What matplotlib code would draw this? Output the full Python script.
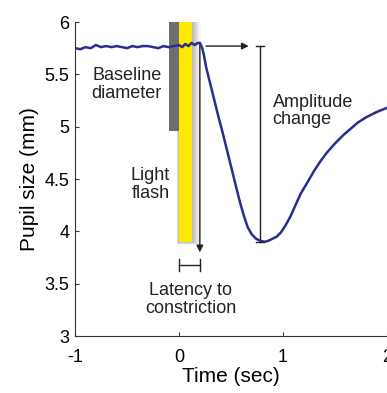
import matplotlib.pyplot as plt
from matplotlib.patches import Rectangle

plt.rcParams['font.family'] = ['Liberation Sans', 'DejaVu Sans']

# pupil trace (time in sec, size in mm)
time_s = [-1.0, -0.95, -0.9, -0.85, -0.8, -0.75, -0.7, -0.65, -0.6, -0.55,
          -0.5, -0.45, -0.4, -0.35, -0.3, -0.25, -0.2, -0.15, -0.1, -0.05,
          0.0, 0.03, 0.06, 0.09, 0.12, 0.15, 0.18, 0.2, 0.22, 0.24,
          0.26, 0.3, 0.34, 0.38, 0.42, 0.46, 0.5, 0.54, 0.58, 0.62,
          0.66, 0.7, 0.74, 0.78, 0.82, 0.86, 0.9, 0.94, 0.98, 1.02,
          1.07, 1.12, 1.17, 1.23, 1.3, 1.36, 1.42, 1.5, 1.58, 1.65,
          1.72, 1.8, 1.9, 2.0]
pupil_mm = [5.75, 5.74, 5.76, 5.75, 5.78, 5.76, 5.77, 5.76, 5.77, 5.76,
            5.75, 5.77, 5.76, 5.77, 5.77, 5.76, 5.75, 5.77, 5.76, 5.77,
            5.78, 5.76, 5.79, 5.77, 5.8, 5.78, 5.8, 5.8, 5.76, 5.68,
            5.57, 5.41, 5.25, 5.09, 4.94, 4.78, 4.62, 4.46, 4.3, 4.16,
            4.04, 3.97, 3.93, 3.91, 3.9, 3.91, 3.93, 3.95, 3.99, 4.05,
            4.14, 4.25, 4.36, 4.46, 4.58, 4.67, 4.75, 4.84, 4.92, 4.98,
            5.04, 5.09, 5.14, 5.18]

baseline_win = (-0.1, 0.0, 4.96)    # grey bar: start, end, bottom
flash_win = (0.0, 0.125, 3.9)       # yellow bar: start, end, bottom
baseline_mm = 5.77
min_mm = 3.9
min_t = 0.78
latency = (0.0, 0.2)

fig = plt.figure(figsize=(3.87, 3.93), dpi=100)
ax = fig.add_axes([0.194, 0.145, 0.806, 0.799])

# soft shadow round the flash bar
for k in range(8):
    pad = 0.006 * (8 - k)
    ax.add_patch(Rectangle((flash_win[0] - pad * 0.5, flash_win[2] - pad * 0.6),
                           flash_win[1] - flash_win[0] + pad * 2.2,
                           6.0 - flash_win[2] + pad * 3,
                           color='black', alpha=0.035, lw=0, zorder=1))
ax.add_patch(Rectangle((baseline_win[0], baseline_win[2]),
                       baseline_win[1] - baseline_win[0], 6.0 - baseline_win[2],
                       color='#6e6e6e', lw=0, zorder=2))
ax.add_patch(Rectangle((flash_win[0], flash_win[2]),
                       flash_win[1] - flash_win[0], 6.0 - flash_win[2],
                       color='#ffe800', lw=0, zorder=2))

ax.plot(time_s, pupil_mm, color='#2a2d8c', lw=1.8, zorder=4)

# latency arrow going down
ax.annotate('', xy=(0.2, 3.8), xytext=(0.2, 5.8),
            arrowprops=dict(arrowstyle='-|>', color='#222222', lw=1,
                            mutation_scale=10, shrinkA=0, shrinkB=0), zorder=3)
# horizontal arrow to amplitude bar
ax.annotate('', xy=(0.67, baseline_mm), xytext=(0.26, baseline_mm),
            arrowprops=dict(arrowstyle='-|>', color='#222222', lw=1,
                            mutation_scale=10, shrinkA=0, shrinkB=0), zorder=3)
# amplitude bar with caps
ax.plot([min_t, min_t], [min_mm, baseline_mm], color='#222222', lw=1, zorder=3)
ax.plot([min_t - 0.04, min_t + 0.04], [baseline_mm] * 2, color='#222222', lw=1)
ax.plot([min_t - 0.04, min_t + 0.04], [min_mm] * 2, color='#222222', lw=1, zorder=5)
# latency bracket
ax.plot(latency, [3.68, 3.68], color='#222222', lw=1)
for t in latency:
    ax.plot([t, t], [3.62, 3.74], color='#222222', lw=1)

tkw = dict(fontsize=13, color='#222222', linespacing=1.05)
ax.text(-0.17, 5.4, 'Baseline\ndiameter', ha='right', va='center', **tkw)
ax.text(-0.09, 4.45, 'Light\nflash', ha='right', va='center', **tkw)
ax.text(0.9, 5.15, 'Amplitude\nchange', ha='left', va='center', **tkw)
ax.text(0.11, 3.35, 'Latency to\nconstriction', ha='center', va='center', **tkw)

ax.set_xlim(-1, 2)
ax.set_ylim(3, 6)
ax.set_xticks([-1, 0, 1, 2])
ax.set_xticklabels(['-1', '0', '1', '2'])
ax.set_yticks([3, 3.5, 4, 4.5, 5, 5.5, 6])
ax.set_yticklabels(['3', '3.5', '4', '4.5', '5', '5.5', '6'])
ax.tick_params(direction='in', length=3, labelsize=13, color='#333333')
ax.tick_params(axis='x', pad=9)
ax.tick_params(axis='y', pad=4)
ax.spines['top'].set_visible(False)
ax.spines['right'].set_visible(False)
for s in ['left', 'bottom']:
    ax.spines[s].set_color('#333333')
    ax.spines[s].set_linewidth(0.8)
ax.set_xlabel('Time (sec)', fontsize=15, labelpad=1)
ax.set_ylabel('Pupil size (mm)', fontsize=15, labelpad=4)

fig.savefig('out.png', dpi=100)
